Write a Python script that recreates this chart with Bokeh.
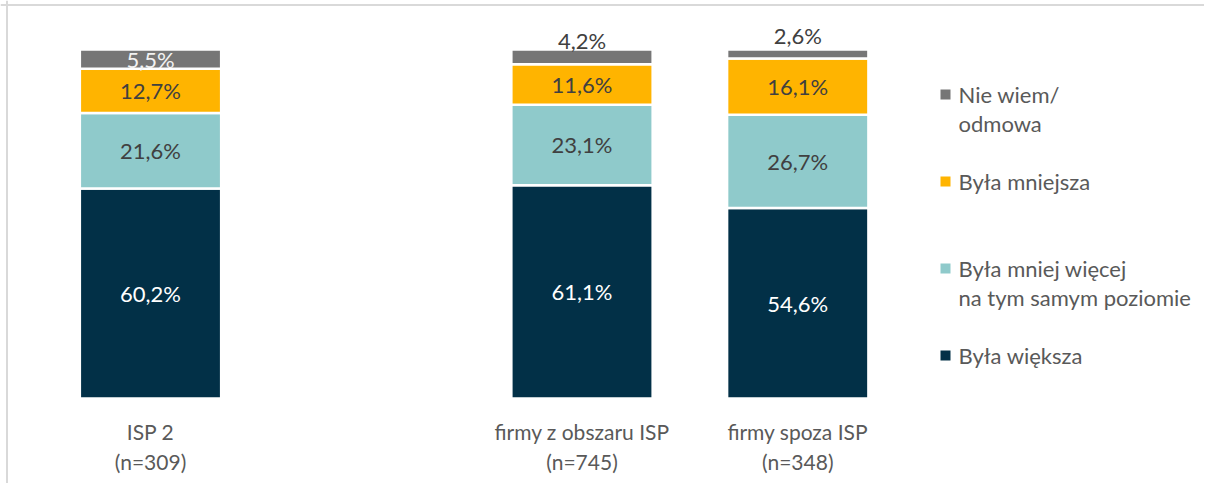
from bokeh.plotting import figure
from bokeh.models import ColumnDataSource, Span, Range1d
from bokeh.core.properties import value
from bokeh.embed import file_html
from bokeh.resources import INLINE

# ---- data ----
categories = ["ISP 2", "firmy z obszaru ISP", "firmy spoza ISP"]
sample_sizes = ["(n=309)", "(n=745)", "(n=348)"]
cat_pos = [0, 2, 3]
series = ["Była większa", "Była mniej więcej na tym samym poziomie", "Była mniejsza", "Nie wiem/ odmowa"]
wieksza = [60.2, 61.1, 54.6]
bez_zmian = [21.6, 23.1, 26.7]
mniejsza = [12.7, 11.6, 16.1]
nie_wiem = [5.5, 4.2, 2.6]
legend_lines = [["Nie wiem/", "odmowa"], ["Była mniejsza"],
                ["Była mniej więcej", "na tym samym poziomie"], ["Była większa"]]

# ---- style ----
colors = ["#023047", "#8FCACB", "#FFB400", "#767676"]
FONT = "Lato"
W, H = 1204, 483
px_x = 215.75          # pixels per category unit
px_y = 3.49            # pixels per percent
x0 = -150 / px_x
x1 = x0 + W / px_x
y1 = 100 + 49 / px_y
y0 = y1 - H / px_y

p = figure(width=W, height=H, output_backend="svg", toolbar_location=None,
           x_range=Range1d(x0, x1), y_range=Range1d(y0, y1),
           min_border=0, min_border_left=0, min_border_right=0,
           min_border_top=0, min_border_bottom=0)
p.axis.visible = False
p.grid.visible = False
p.outline_line_color = None
p.background_fill_color = "white"
p.border_fill_color = "white"

keys = ["wieksza", "bez_zmian", "mniejsza", "nie_wiem"]
src = ColumnDataSource(dict(x=cat_pos, wieksza=wieksza, bez_zmian=bez_zmian,
                            mniejsza=mniejsza, nie_wiem=nie_wiem))
p.vbar_stack(keys, x="x", width=0.655, color=colors, source=src,
             line_color="white", line_width=2.5)

# value labels
vals = [wieksza, bez_zmian, mniejsza, nie_wiem]
lx, ly, lt, lc, loff = [], [], [], [], []
txt_colors = ["#FFFFFF", "#404040", "#404040", None]
gray_offsets = [0, -16, -19]
gray_colors = ["#F2F2F2", "#404040", "#404040"]
for i, xp in enumerate(cat_pos):
    base = 0
    for s in range(4):
        v = vals[s][i]
        lx.append(xp)
        ly.append(base + v / 2)
        lt.append(f"{v:.1f}%".replace(".", ","))
        if s == 3:
            lc.append(gray_colors[i])
            loff.append(gray_offsets[i])
        else:
            lc.append(txt_colors[s])
            loff.append(0)
        base += v
p.text(x="x", y="y", text="t", text_color="c", y_offset="o",
       source=ColumnDataSource(dict(x=lx, y=ly, t=lt, c=lc, o=loff)),
       text_align="center", text_baseline="middle",
       text_font=value(FONT), text_font_size="22px")

# category labels
cx, cy, ct, co = [], [], [], []
for xp, c, n in zip(cat_pos, categories, sample_sizes):
    cx += [xp, xp]
    cy += [0, 0]
    ct += [c, n]
    co += [33, 63]
p.text(x="x", y="y", text="t", y_offset="o",
       source=ColumnDataSource(dict(x=cx, y=cy, t=ct, o=co)),
       text_align="center", text_baseline="middle", text_color="#595959",
       text_font=value(FONT), text_font_size="21px")

# legend (manual, to reproduce multi-line entries)
leg_colors = [colors[3], colors[2], colors[1], colors[0]]
sq_x = x0 + 945 / px_x
tx_x = x0 + 958 / px_x
top_px = 94
step_px = 87
sx, sy, tx, ty, tt, to = [], [], [], [], [], []
for k, lines in enumerate(legend_lines):
    yy = y1 - (top_px + k * step_px) / px_y
    sx.append(sq_x)
    sy.append(yy)
    for j, line in enumerate(lines):
        tx.append(tx_x)
        ty.append(yy)
        tt.append(line)
        to.append(j * 29)
p.scatter(sx, sy, marker="square", size=10, color=leg_colors, line_color=None)
p.text(x="x", y="y", text="t", y_offset="o",
       source=ColumnDataSource(dict(x=tx, y=ty, t=tt, o=to)),
       text_align="left", text_baseline="middle", text_color="#595959",
       text_font=value(FONT), text_font_size="22px")

# chart border (top and left visible in the reference)
p.add_layout(Span(location=y1 - 4.5 / px_y, dimension="width",
                  line_color="#D9D9D9", line_width=2))
p.add_layout(Span(location=x0 + 6.5 / px_x, dimension="height",
                  line_color="#D9D9D9", line_width=2))

open("out.html", "w").write(file_html(p, INLINE))
